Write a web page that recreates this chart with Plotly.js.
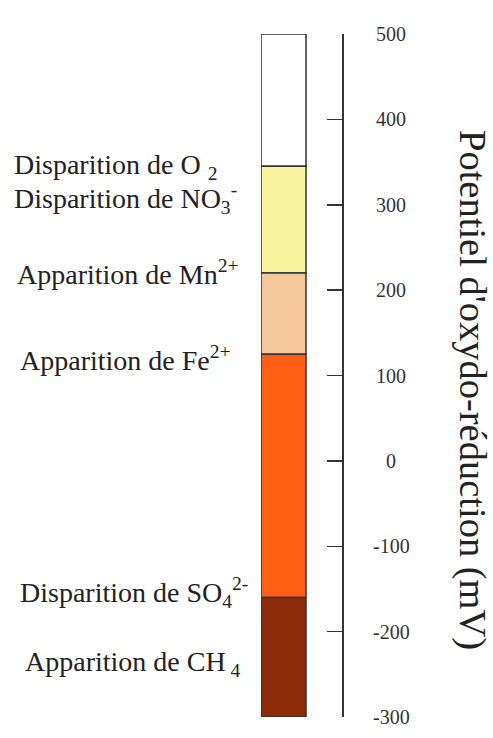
<!DOCTYPE html>
<html>
<head>
<meta charset="utf-8">
<script src="https://cdn.plot.ly/plotly-3.0.1.min.js"></script>
<style>html,body{margin:0;padding:0;background:#fff;}#chart{width:493px;height:738px;}</style>
</head>
<body>
<div id="chart"></div>
<script>
// Redox zones (mV): band edges from top to bottom
const boundaries = [500, 345, 220, 125, -160, -300];
const bandColors = ['#ffffff', '#f7f59e', '#f5c79b', '#ff5e14', '#8b2b0a'];

// Axis ticks
const tickVals = [500, 400, 300, 200, 100, 0, -100, -200, -300];
const tickLabels = ['500', '400', '300', '200', '100', '0', '-100', '-200', '-300'];

// Left-hand labels and their potentials
const labelTexts = [
  'Disparition de O <sub>2</sub>',
  'Disparition de NO<sub>3</sub><sup>-</sup>',
  'Apparition de Mn<sup>2+</sup>',
  'Apparition de Fe<sup>2+</sup>',
  'Disparition de SO<sub>4</sub><sup>2-</sup>',
  'Apparition de CH<sub> 4</sub>'
];
const labelValues = [345, 307, 221, 120, -154, -237];
const labelLeftPx = [12, 12, 15, 18, 18, 23];

const axisTitle = "Potentiel d'oxydo-réduction (mV)";

// geometry
const W = 493, H = 738;
const plotL = 261, plotR = 342, plotT = 34, plotB = 717;
const plotW = plotR - plotL, plotH = plotB - plotT;
const pxToPaperX = px => (px - plotL) / plotW;
const pxToPaperY = py => 1 - (py - plotT) / plotH;

const bases = [], heights = [], xs = [];
for (let i = 0; i < bandColors.length; i++) {
  bases.push(boundaries[i + 1]);
  heights.push(boundaries[i] - boundaries[i + 1]);
  xs.push(0);
}

const trace = {
  type: 'bar',
  x: xs,
  y: heights,
  base: bases,
  width: 1,
  marker: { color: bandColors, line: { color: '#333333', width: 1.5 } },
  hoverinfo: 'skip',
  showlegend: false
};

const serif = 'Liberation Serif, Times New Roman, serif';
const annotations = [];
labelTexts.forEach((t, i) => {
  annotations.push({
    xref: 'paper', yref: 'y',
    x: pxToPaperX(labelLeftPx[i]), y: labelValues[i],
    xanchor: 'left', yanchor: 'middle',
    text: t, showarrow: false,
    font: { family: serif, size: 28, color: '#222222' }
  });
});
tickVals.forEach((v, i) => {
  annotations.push({
    xref: 'paper', yref: 'y',
    x: pxToPaperX(391), y: v,
    xanchor: 'center', yanchor: 'middle',
    text: tickLabels[i], showarrow: false,
    font: { family: serif, size: 20, color: '#333333' }
  });
});
annotations.push({
  xref: 'paper', yref: 'paper',
  x: pxToPaperX(473), y: pxToPaperY(390),
  xanchor: 'center', yanchor: 'middle',
  text: axisTitle, textangle: 90, showarrow: false,
  font: { family: serif, size: 38.5, color: '#222222' }
});

const layout = {
  width: W, height: H,
  margin: { l: plotL, r: W - plotR, t: plotT, b: H - plotB, pad: 0 },
  paper_bgcolor: '#ffffff',
  plot_bgcolor: 'rgba(0,0,0,0)',
  barmode: 'overlay',
  showlegend: false,
  hovermode: false,
  xaxis: { range: [-0.5, 1.3], visible: false, fixedrange: true },
  yaxis: {
    range: [-300, 500],
    side: 'right',
    tickvals: tickVals,
    ticktext: tickLabels,
    showticklabels: false,
    ticks: 'inside',
    ticklen: 15,
    tickwidth: 1.5,
    tickcolor: '#333333',
    showline: true,
    linecolor: '#333333',
    linewidth: 1.5,
    showgrid: false,
    zeroline: false,
    fixedrange: true
  },
  annotations: annotations
};

Plotly.newPlot('chart', [trace], layout, { staticPlot: true, displayModeBar: false });
</script>
</body>
</html>
